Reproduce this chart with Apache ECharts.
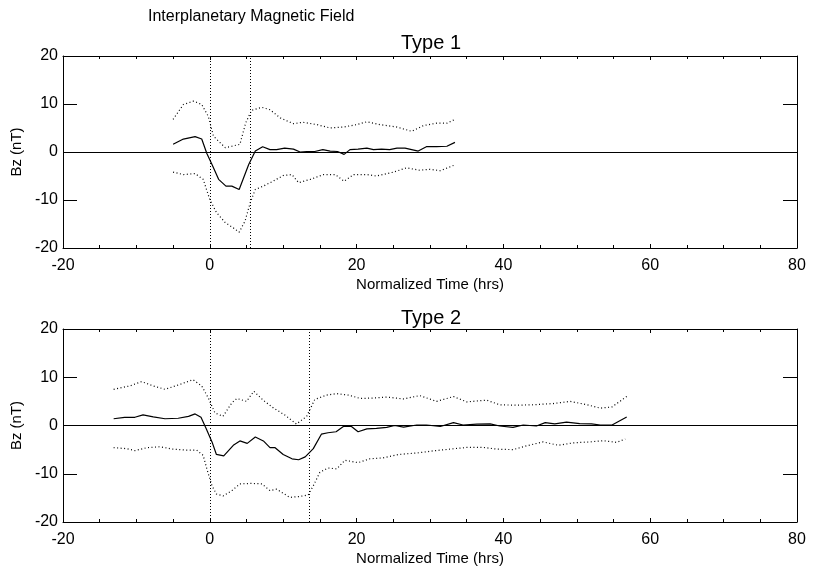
<!DOCTYPE html>
<html>
<head>
<meta charset="utf-8">
<script src="https://cdn.jsdelivr.net/npm/echarts@6/dist/echarts.min.js"></script>
<style>html,body{margin:0;padding:0;background:#fff}#c{width:818px;height:569px}</style>
</head>
<body>
<div id="c"></div>
<script>
// ---- data ----
var xTicks = [-20, 0, 20, 40, 60, 80];
var yTicks = [-20, -10, 0, 10, 20];

var t1MeanX = [-5, -3.6, -2.0, -1.1, -0.4, 0.3, 1.2, 2.2, 3.0, 4.0, 5.3, 6.2, 7.2, 8.2, 9.1, 10.2, 11.4, 12.3, 13.2, 14.3, 15.4, 16.4, 17.4, 18.3, 19.1, 20.2, 21.4, 22.3, 23.4, 24.5, 25.5, 26.6, 27.5, 28.4, 29.5, 30.9, 32.3, 33.4];
var t1MeanY = [1.6, 2.7, 3.2, 2.7, -0.3, -2.6, -5.7, -7.1, -7.1, -7.8, -2.6, 0.2, 1.1, 0.5, 0.5, 0.8, 0.6, 0, 0.1, 0.1, 0.5, 0.2, 0.1, -0.5, 0.5, 0.6, 0.8, 0.5, 0.6, 0.5, 0.8, 0.8, 0.5, 0.2, 1.1, 1.1, 1.2, 2.0];
var t1UpperX = [-5.0, -3.6, -2.2, -1.1, -0.2, 0.5, 2.1, 3.0, 4.1, 4.9, 5.7, 7.1, 8.2, 9.6, 11.4, 12.7, 14.6, 16.4, 18.2, 20.0, 21.4, 23.2, 25.5, 27.5, 29.1, 30.9, 32.3, 33.4];
var t1UpperY = [6.8, 9.9, 10.6, 9.9, 7.4, 3.3, 0.9, 1.2, 1.6, 6.1, 8.7, 9.3, 8.8, 7.1, 5.9, 6.2, 5.7, 5.0, 5.2, 5.7, 6.3, 5.7, 5.2, 4.3, 5.5, 6.0, 6.0, 6.8];
var t1LowerX = [-5.0, -3.6, -2.0, -0.9, 0.0, 0.9, 2.1, 3.2, 4.0, 4.8, 5.5, 6.2, 7.3, 8.6, 10.0, 11.2, 12.1, 13.7, 15.5, 17.1, 18.3, 19.6, 21.4, 22.7, 25.0, 26.8, 28.6, 30.0, 31.4, 33.2];
var t1LowerY = [-4.2, -4.7, -4.5, -5.7, -9.9, -12.6, -14.7, -15.8, -16.7, -14.4, -10.6, -7.8, -7.1, -6.1, -4.9, -4.7, -6.4, -5.7, -4.7, -4.7, -6.1, -4.7, -4.7, -5.0, -4.2, -3.3, -3.8, -3.6, -3.9, -2.8];
var t1Bounds = [0, 5.5];

var t2MeanX = [-13.1, -11.6, -10.2, -9.1, -7.7, -6.1, -4.3, -2.9, -2.0, -1.2, -0.5, 0.3, 0.9, 1.9, 3.2, 4.1, 5.1, 6.2, 7.3, 8.2, 8.9, 10.0, 11.2, 12.1, 13.0, 14.1, 15.2, 16.1, 17.2, 18.2, 19.3, 20.2, 21.4, 22.7, 24.1, 25.2, 26.4, 28.2, 29.5, 31.4, 33.2, 34.5, 36.4, 38.2, 39.5, 41.3, 42.7, 44.5, 45.7, 47.0, 48.6, 50.4, 52.0, 53.2, 54.8, 56.8];
var t2MeanY = [1.4, 1.7, 1.7, 2.2, 1.8, 1.4, 1.5, 1.9, 2.4, 1.7, -0.6, -3.4, -6.0, -6.3, -4.1, -3.2, -3.7, -2.4, -3.2, -4.6, -4.6, -6.0, -6.9, -7.1, -6.5, -4.8, -1.8, -1.5, -1.3, -0.2, -0.2, -1.3, -0.7, -0.6, -0.4, 0.0, -0.35, 0.1, 0.1, -0.2, 0.6, 0.1, 0.3, 0.35, -0.1, -0.4, 0.1, -0.1, 0.6, 0.35, 0.7, 0.4, 0.35, 0.1, 0.1, 1.75];
var t2UpperX = [-13.1, -10.9, -9.3, -7.7, -6.1, -4.1, -2.3, -1.1, -0.2, 0.7, 1.8, 3.0, 3.7, 5.0, 6.0, 7.3, 8.7, 10.2, 11.8, 13.2, 14.3, 15.9, 17.3, 18.9, 20.5, 22.3, 24.1, 26.4, 28.6, 30.9, 33.2, 35.0, 37.7, 39.5, 41.8, 44.1, 46.8, 49.1, 51.4, 53.2, 54.8, 56.8];
var t2UpperY = [7.5, 8.2, 9.1, 8.2, 7.5, 8.5, 9.5, 8.2, 5.7, 2.6, 1.9, 4.7, 5.6, 5.0, 7.1, 5.2, 3.6, 2.2, 0.3, 1.9, 5.4, 6.3, 6.6, 6.3, 5.6, 5.7, 5.9, 5.5, 6.2, 5.0, 6.0, 4.9, 5.25, 4.3, 4.2, 4.3, 4.55, 5.0, 4.3, 3.6, 3.85, 6.0];
var t2LowerX = [-13.1, -11.3, -10.2, -8.6, -6.8, -5.0, -3.2, -1.8, -0.9, -0.4, 0.3, 0.9, 1.8, 3.0, 4.1, 5.7, 7.1, 8.2, 9.1, 10.9, 12.3, 13.4, 14.1, 15.0, 16.1, 17.3, 18.4, 20.2, 21.8, 23.6, 25.7, 28.2, 30.5, 32.7, 35.0, 37.3, 39.1, 41.3, 43.2, 45.4, 47.5, 49.5, 51.8, 53.6, 55.4, 56.6];
var t2LowerY = [-4.6, -4.8, -5.2, -4.6, -4.4, -4.9, -5.1, -5.1, -6.2, -9.0, -12.5, -14.2, -14.6, -13.5, -12.1, -12.0, -12.1, -13.5, -13.2, -14.9, -14.7, -14.4, -12.5, -9.7, -8.8, -9.0, -7.2, -7.7, -6.9, -6.7, -6.0, -5.7, -5.25, -4.9, -4.55, -4.55, -4.9, -5.0, -4.2, -3.4, -4.1, -3.6, -3.4, -3.15, -3.5, -2.8];
var t2Bounds = [0, 13.5];

// ---- chart ----
var FONT = 'Liberation Sans, Arial, Helvetica, sans-serif';
function pairs(xs, ys) { return xs.map(function (x, i) { return [x, ys[i]]; }); }

function xAxes(gi) {
  return [{
    type: 'value', gridIndex: gi, position: 'bottom',
    min: xTicks[0], max: xTicks[xTicks.length - 1], interval: 20,
    name: 'Normalized Time (hrs)', nameLocation: 'middle', nameGap: 29,
    nameTextStyle: { color: '#000', fontSize: 15, fontFamily: FONT },
    axisLine: { show: true, onZero: false, lineStyle: { color: '#000', width: 1 } },
    axisTick: { show: true, inside: true, length: 4, lineStyle: { color: '#000' } },
    minorTick: { show: true, splitNumber: 4, length: 3, lineStyle: { color: '#000' } },
    axisLabel: { color: '#000', fontSize: 16, fontFamily: FONT, margin: 10 },
    splitLine: { show: false }
  }, {
    type: 'value', gridIndex: gi, position: 'top',
    min: xTicks[0], max: xTicks[xTicks.length - 1], interval: 20,
    axisLine: { show: true, onZero: false, lineStyle: { color: '#000', width: 1 } },
    axisTick: { show: true, inside: true, length: 4, lineStyle: { color: '#000' } },
    minorTick: { show: true, splitNumber: 4, length: 3, lineStyle: { color: '#000' } },
    axisLabel: { show: false }, splitLine: { show: false }
  }];
}
function yAxes(gi) {
  return [{
    type: 'value', gridIndex: gi, position: 'left',
    min: yTicks[0], max: yTicks[yTicks.length - 1], interval: 10,
    name: 'Bz (nT)', nameLocation: 'middle', nameGap: 38, nameRotate: 90,
    nameTextStyle: { color: '#000', fontSize: 15, fontFamily: FONT },
    axisLine: { show: true, onZero: false, lineStyle: { color: '#000', width: 1 } },
    axisTick: { show: true, inside: true, length: 14, lineStyle: { color: '#000' } },
    axisLabel: { color: '#000', fontSize: 16, fontFamily: FONT, margin: 5 },
    splitLine: { show: false }
  }, {
    type: 'value', gridIndex: gi, position: 'right',
    min: yTicks[0], max: yTicks[yTicks.length - 1], interval: 10,
    axisLine: { show: true, onZero: false, lineStyle: { color: '#000', width: 1 } },
    axisTick: { show: true, inside: true, length: 14, lineStyle: { color: '#000' } },
    axisLabel: { show: false }, splitLine: { show: false }
  }];
}

function lineSeries(xi, yi, data, dotted, extra) {
  var s = {
    type: 'line', xAxisIndex: xi, yAxisIndex: yi, data: data,
    showSymbol: false, symbol: 'none', silent: true, animation: false,
    lineStyle: { color: '#000', width: 1.2, type: dotted ? [1, 2.5] : 'solid' }
  };
  if (extra) s.markLine = extra;
  return s;
}
function marks(bounds) {
  return {
    silent: true, symbol: 'none', animation: false,
    label: { show: false },
    data: [
      { yAxis: 0, lineStyle: { color: '#000', width: 1, type: 'solid' } },
      { xAxis: bounds[0], lineStyle: { color: '#000', width: 1, type: [1, 2] } },
      { xAxis: bounds[1], lineStyle: { color: '#000', width: 1, type: [1, 2] } }
    ]
  };
}

var chart = echarts.init(document.getElementById('c'), null, { renderer: 'canvas' });
chart.setOption({
  backgroundColor: '#fff',
  animation: false,
  title: [
    { text: 'Interplanetary Magnetic Field', left: 143, top: 4,
      textStyle: { color: '#000', fontSize: 16, fontWeight: 'normal', fontFamily: FONT } },
    { text: 'Type 1', left: 426, top: 28, textAlign: 'center',
      textStyle: { color: '#000', fontSize: 20, fontWeight: 'normal', fontFamily: FONT } },
    { text: 'Type 2', left: 426, top: 303, textAlign: 'center',
      textStyle: { color: '#000', fontSize: 20, fontWeight: 'normal', fontFamily: FONT } }
  ],
  grid: [
    { left: 63, right: 21, top: 56, height: 192 },
    { left: 63, right: 21, top: 329, height: 193 }
  ],
  xAxis: xAxes(0).concat(xAxes(1)),
  yAxis: yAxes(0).concat(yAxes(1)),
  series: [
    lineSeries(0, 0, pairs(t1MeanX, t1MeanY), false, marks(t1Bounds)),
    lineSeries(0, 0, pairs(t1UpperX, t1UpperY), true),
    lineSeries(0, 0, pairs(t1LowerX, t1LowerY), true),
    lineSeries(2, 2, pairs(t2MeanX, t2MeanY), false, marks(t2Bounds)),
    lineSeries(2, 2, pairs(t2UpperX, t2UpperY), true),
    lineSeries(2, 2, pairs(t2LowerX, t2LowerY), true)
  ]
});
</script>
</body>
</html>
